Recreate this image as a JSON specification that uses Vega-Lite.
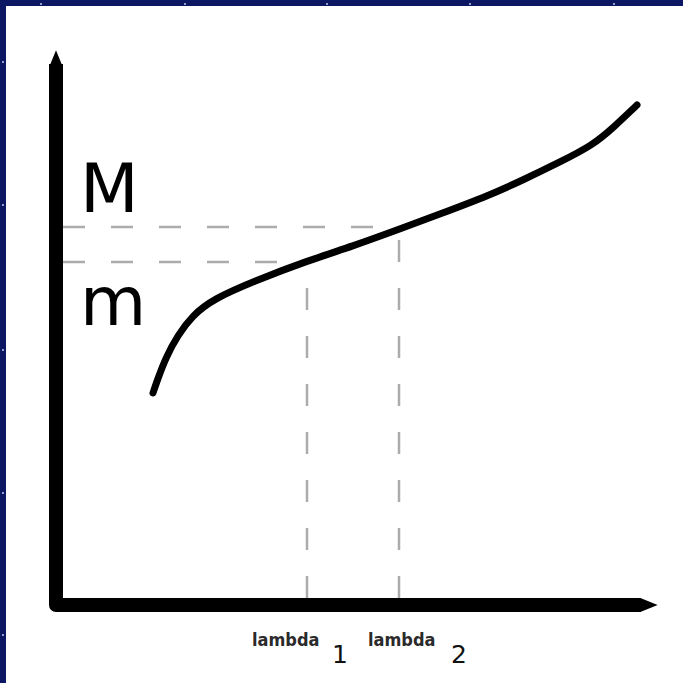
{
  "$schema": "https://vega.github.io/schema/vega-lite/v6.json",
  "width": 683,
  "height": 683,
  "autosize": {"type": "fit", "contains": "padding"},
  "padding": 0,
  "background": "#0b1762",
  "config": {"view": {"stroke": null}},
  "datasets": {
    "panel": [{"x": -50, "x2": 627, "y": -78, "y2": 599}],
    "stars": [
      {"x": -15, "y": 601}, {"x": 129, "y": 601}, {"x": 271, "y": 601}, {"x": 414, "y": 601}, {"x": 558, "y": 601},
      {"x": -53, "y": 543}, {"x": -53, "y": 400}, {"x": -53, "y": 255}, {"x": -53, "y": 112}, {"x": -53, "y": -30}
    ],
    "guides": [
      {"x": 7, "y": 378, "x2": 343, "y2": 378},
      {"x": 7, "y": 343, "x2": 251, "y2": 343},
      {"x": 251, "y": 7, "x2": 251, "y2": 343},
      {"x": 343, "y": 7, "x2": 343, "y2": 378}
    ],
    "axes": [
      {"k": 1, "x": 0, "y": 541},
      {"k": 2, "x": 0, "y": 0},
      {"k": 3, "x": 585, "y": 0}
    ],
    "curve": [
      {"lambda": 97, "value": 212},
      {"lambda": 101, "value": 224},
      {"lambda": 110, "value": 248},
      {"lambda": 122, "value": 270},
      {"lambda": 136, "value": 289},
      {"lambda": 157, "value": 306},
      {"lambda": 201, "value": 325},
      {"lambda": 251, "value": 344},
      {"lambda": 297, "value": 359},
      {"lambda": 341, "value": 375},
      {"lambda": 384, "value": 391},
      {"lambda": 434, "value": 410},
      {"lambda": 467, "value": 425},
      {"lambda": 504, "value": 443},
      {"lambda": 537, "value": 460},
      {"lambda": 558, "value": 478},
      {"lambda": 581, "value": 500}
    ],
    "levels": [
      {"label": "M", "x": 24, "y": 393},
      {"label": "m", "x": 24, "y": 280}
    ],
    "ticks": [
      {"label": "lambda", "x": 196, "y": -41},
      {"label": "lambda", "x": 312, "y": -41}
    ],
    "subs": [
      {"label": "1", "x": 276, "y": -58},
      {"label": "2", "x": 395, "y": -58}
    ]
  },
  "layer": [
    {
      "data": {"name": "panel"},
      "mark": {"type": "rect", "fill": "#ffffff"},
      "encoding": {
        "x": {"field": "x", "type": "quantitative", "scale": {"domain": [-56, 627], "nice": false, "zero": false}, "axis": null},
        "x2": {"field": "x2"},
        "y": {"field": "y", "type": "quantitative", "scale": {"domain": [-78, 605], "nice": false, "zero": false}, "axis": null},
        "y2": {"field": "y2"}
      }
    },
    {
      "data": {"name": "stars"},
      "mark": {"type": "point", "filled": true, "fill": "#dfe6ff", "opacity": 0.8, "size": 5, "strokeWidth": 0},
      "encoding": {
        "x": {"field": "x", "type": "quantitative", "axis": null},
        "y": {"field": "y", "type": "quantitative", "axis": null}
      }
    },
    {
      "data": {"name": "guides"},
      "mark": {"type": "rule", "stroke": "#acacac", "strokeWidth": 2.5, "strokeDash": [22, 26]},
      "encoding": {
        "x": {"field": "x", "type": "quantitative", "axis": null},
        "x2": {"field": "x2"},
        "y": {"field": "y", "type": "quantitative", "axis": null},
        "y2": {"field": "y2"}
      }
    },
    {
      "data": {"name": "axes"},
      "mark": {"type": "line", "stroke": "#000000", "strokeWidth": 14, "strokeJoin": "round", "strokeCap": "butt"},
      "encoding": {
        "x": {"field": "x", "type": "quantitative", "axis": null},
        "y": {"field": "y", "type": "quantitative", "axis": null},
        "order": {"field": "k"}
      }
    },
    {
      "data": {"values": [{"x": 0, "y": 546}]},
      "mark": {"type": "point", "shape": "M0,-1 L0.82,1 L-0.82,1 Z", "size": 300, "filled": true, "fill": "#000000", "opacity": 1, "strokeWidth": 0},
      "encoding": {
        "x": {"field": "x", "type": "quantitative", "axis": null},
        "y": {"field": "y", "type": "quantitative", "axis": null}
      }
    },
    {
      "data": {"values": [{"x": 593, "y": 0}]},
      "mark": {"type": "point", "shape": "M1,0 L-1,0.82 L-1,-0.82 Z", "size": 300, "filled": true, "fill": "#000000", "opacity": 1, "strokeWidth": 0},
      "encoding": {
        "x": {"field": "x", "type": "quantitative", "axis": null},
        "y": {"field": "y", "type": "quantitative", "axis": null}
      }
    },
    {
      "data": {"name": "curve"},
      "mark": {"type": "line", "stroke": "#000000", "strokeWidth": 7, "strokeCap": "round", "strokeJoin": "round", "interpolate": "basis"},
      "encoding": {
        "x": {"field": "lambda", "type": "quantitative", "axis": null},
        "y": {"field": "value", "type": "quantitative", "axis": null}
      }
    },
    {
      "data": {"name": "levels"},
      "mark": {"type": "text", "align": "left", "baseline": "alphabetic", "font": "DejaVu Sans", "fontSize": 68, "fill": "#000000"},
      "encoding": {
        "x": {"field": "x", "type": "quantitative", "axis": null},
        "y": {"field": "y", "type": "quantitative", "axis": null},
        "text": {"field": "label"}
      }
    },
    {
      "data": {"name": "ticks"},
      "mark": {"type": "text", "align": "left", "baseline": "alphabetic", "font": "DejaVu Sans Condensed", "fontWeight": "bold", "fontSize": 18, "fill": "#2a2a2a"},
      "encoding": {
        "x": {"field": "x", "type": "quantitative", "axis": null},
        "y": {"field": "y", "type": "quantitative", "axis": null},
        "text": {"field": "label"}
      }
    },
    {
      "data": {"name": "subs"},
      "mark": {"type": "text", "align": "left", "baseline": "alphabetic", "font": "DejaVu Sans", "fontSize": 25, "fill": "#111111"},
      "encoding": {
        "x": {"field": "x", "type": "quantitative", "axis": null},
        "y": {"field": "y", "type": "quantitative", "axis": null},
        "text": {"field": "label"}
      }
    }
  ]
}
